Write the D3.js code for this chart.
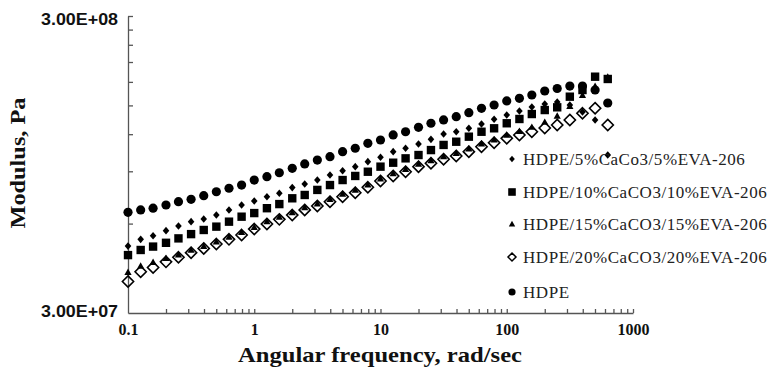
<!DOCTYPE html>
<html><head><meta charset="utf-8">
<script src="https://cdn.jsdelivr.net/npm/d3@7"></script>
<style>body{margin:0;background:#fff}svg{display:block}</style>
</head><body>
<script>
// ---- data ----
const freq = [0.1,0.126,0.158,0.2,0.251,0.316,0.398,0.501,0.631,0.794,
  1,1.26,1.58,2,2.51,3.16,3.98,5.01,6.31,7.94,
  10,12.6,15.8,20,25.1,31.6,39.8,50.1,63.1,79.4,
  100,126,158,200,251,316,398,501,631];
const s5 = [5.04,5.31,5.46,5.68,5.89,6.09,6.22,6.41,6.67,6.93,
  7.15,7.39,7.59,7.93,8.16,8.41,8.75,9.04,9.33,9.70,
  10.03,10.48,10.76,11.12,11.53,12.02,12.23,12.56,12.99,13.47,
  13.93,14.36,14.82,15.17,15.40,15.05,14.25,13.40,10.21].map(v=>v*1e7);
const s10 = [4.70,4.89,5.02,5.17,5.35,5.53,5.71,5.86,6.09,6.33,
  6.51,6.76,6.98,7.30,7.49,7.79,8.09,8.41,8.68,8.97,
  9.33,9.62,9.95,10.21,10.61,11.04,11.32,11.77,12.23,12.56,
  13.06,13.50,14.03,14.47,14.78,16.05,16.90,18.74,18.41].map(v=>v*1e7);
const s15 = [4.12,4.32,4.45,4.59,4.72,4.89,5.04,5.22,5.41,5.62,
  5.84,6.10,6.32,6.54,6.80,7.01,7.26,7.55,7.79,8.12,
  8.51,8.85,9.16,9.53,9.79,10.10,10.37,10.74,11.16,11.51,
  11.93,12.30,12.69,13.19,13.82,14.93,16.26,17.43,18.70].map(v=>v*1e7);
const s20 = [3.83,4.13,4.27,4.46,4.62,4.79,4.95,5.12,5.31,5.49,
  5.75,5.98,6.20,6.41,6.67,6.88,7.11,7.39,7.62,7.95,
  8.35,8.68,8.97,9.33,9.58,9.88,10.13,10.48,10.89,11.23,
  11.62,11.93,12.23,12.59,12.89,13.40,14.11,14.67,12.89].map(v=>v*1e7);
const sHDPE = [6.55,6.67,6.76,6.93,7.11,7.24,7.45,7.68,7.89,8.09,
  8.41,8.63,8.90,9.21,9.53,9.82,10.08,10.48,10.76,11.18,
  11.47,11.93,12.23,12.66,13.06,13.40,13.74,14.18,14.67,15.05,
  15.53,15.85,16.26,16.77,17.10,17.43,17.43,16.90,15.28].map(v=>v*1e7);
const seriesNames = ["HDPE/5%CaCo3/5%EVA-206","HDPE/10%CaCO3/10%EVA-206",
  "HDPE/15%CaCO3/15%EVA-206","HDPE/20%CaCO3/20%EVA-206","HDPE"];
const xTickValues = [0.1,1,10,100,1000];
const xTickLabels = ["0.1","1","10","100","1000"];
const yTickValues = [3e7,3e8];
const yTickLabels = ["3.00E+07","3.00E+08"];
const xTitle = "Angular frequency, rad/sec";
const yTitle = "Modulus, Pa";

// ---- chart ----
const W=768,H=369;
const svg=d3.select("body").append("svg").attr("width",W).attr("height",H);
svg.append("rect").attr("width",W).attr("height",H).attr("fill","#fff");
const x=d3.scaleLog().domain([0.1,1000]).range([128,633]);
const y=d3.scaleLog().domain([3e7,3e8]).range([313,16]);
const axisCol="#555";

const xMinor=[];[0.1,1,10,100].forEach(d=>{for(let k=2;k<=10;k++)xMinor.push(d*k);});
const yMinor=[];for(let k=2;k<=10;k++)yMinor.push(3e7*k);

const gx=svg.append("g").attr("transform","translate(0,313)")
  .call(d3.axisBottom(x).tickValues(xMinor).tickSizeInner(-4).tickSizeOuter(0).tickFormat(""));
const gy=svg.append("g").attr("transform","translate(128,0)")
  .call(d3.axisLeft(y).tickValues(yMinor).tickSizeInner(-5).tickSizeOuter(0).tickFormat(""));
[gx,gy].forEach(g=>{g.selectAll("path,line").attr("stroke",axisCol).attr("stroke-width",1.3);});

const gxl=svg.append("g").attr("transform","translate(0,313)")
  .call(d3.axisBottom(x).tickValues(xTickValues).tickSize(0).tickPadding(11)
  .tickFormat((d,i)=>xTickLabels[i]));
gxl.select(".domain").remove();
gxl.selectAll("text").attr("font-family","'Liberation Serif','Times New Roman',serif")
  .attr("font-weight","bold").attr("font-size",16).attr("fill","#111");
const gyl=svg.append("g").attr("transform","translate(118,0)")
  .call(d3.axisLeft(y).tickValues(yTickValues).tickSize(0).tickPadding(0)
  .tickFormat((d,i)=>yTickLabels[i]));
gyl.select(".domain").remove();
gyl.selectAll("text").attr("font-family","'Liberation Sans',Arial,sans-serif")
  .attr("font-weight","bold").attr("font-size",16.5).attr("fill","#111")
  .attr("textLength",77).attr("lengthAdjust","spacingAndGlyphs")
  .attr("dy",(d)=>d===3e8?"0.5em":"0.2em");

svg.append("text").attr("x",380).attr("y",362).attr("text-anchor","middle")
  .attr("font-family","'Liberation Serif','Times New Roman',serif").attr("font-weight","bold")
  .attr("font-size",21).attr("textLength",284).attr("lengthAdjust","spacingAndGlyphs")
  .attr("fill","#111").text(xTitle);
svg.append("text").attr("transform","translate(25,163) rotate(-90)").attr("text-anchor","middle")
  .attr("font-family","'Liberation Serif','Times New Roman',serif").attr("font-weight","bold")
  .attr("font-size",22).attr("textLength",131).attr("lengthAdjust","spacingAndGlyphs")
  .attr("fill","#111").text(yTitle);

function diamond(w,h){return `M0,${-h}L${w},0L0,${h}L${-w},0Z`;}
function square(s){return `M${-s},${-s}H${s}V${s}H${-s}Z`;}
function tri(s){return `M0,${-s}L${s},${s*0.8}L${-s},${s*0.8}Z`;}
function circ(r){return `M${r},0A${r},${r} 0 1,1 ${-r},0A${r},${r} 0 1,1 ${r},0Z`;}
const series=[
  {vals:s5, path:diamond(3.3,3.8), fill:"#000", stroke:"none", leg:diamond(2.8,3.3)},
  {vals:s10,path:square(4.2), fill:"#000", stroke:"none", leg:square(3.8)},
  {vals:s15,path:tri(3.6), fill:"#000", stroke:"none", leg:tri(3.2)},
  {vals:s20,path:diamond(5.6,5.6), fill:"none", stroke:"#000", sw:1.6, leg:diamond(4,4)},
  {vals:sHDPE,path:circ(4.6), fill:"#000", stroke:"none", leg:circ(3.6)}
];
series.forEach(s=>{
  svg.append("g").selectAll("path").data(freq.map((f,i)=>[f,s.vals[i]])).join("path")
    .attr("transform",d=>`translate(${x(d[0])},${y(d[1])})`)
    .attr("d",s.path).attr("fill",s.fill).attr("stroke",s.stroke).attr("stroke-width",s.sw||0);
});

const legY=[159,192,224,257,292];
const lg=svg.append("g");
series.forEach((s,i)=>{
  lg.append("path").attr("transform",`translate(512,${legY[i]})`).attr("d",s.leg)
    .attr("fill",s.fill).attr("stroke",s.stroke).attr("stroke-width",s.sw?1.5:0);
  lg.append("text").attr("x",523).attr("y",legY[i]).attr("dy","0.35em")
    .attr("font-family","'Liberation Serif','Times New Roman',serif").attr("font-size",17)
    .attr("letter-spacing",0.55)
    .attr("fill","#222").text(seriesNames[i]);
});
</script>
</body></html>
